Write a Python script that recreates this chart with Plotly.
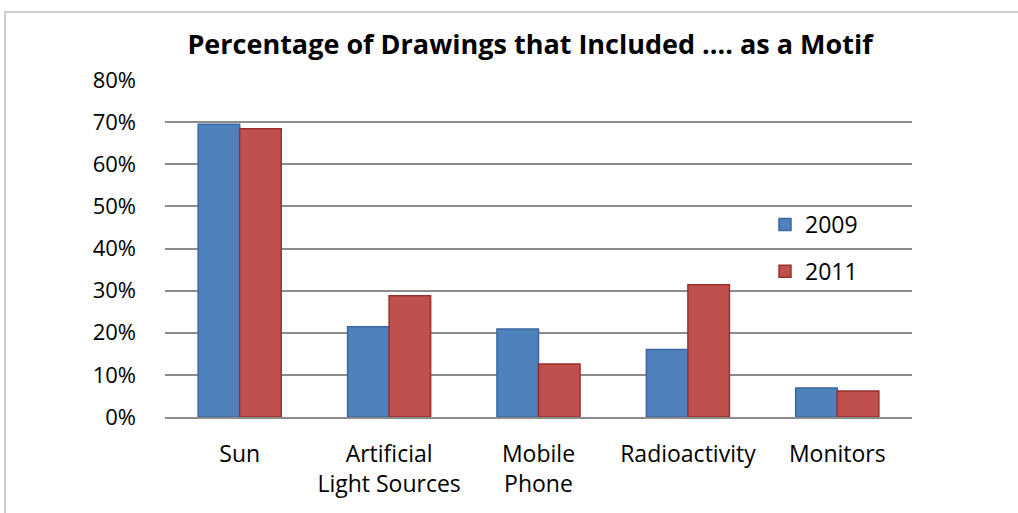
import plotly.graph_objects as go

# Motif categories and share of drawings (in %) for each survey year
categories = ["Sun", "Artificial<br>Light Sources", "Mobile<br>Phone", "Radioactivity", "Monitors"]
share_2009 = [69.5, 21.4, 20.9, 16.0, 6.9]
share_2011 = [68.4, 28.8, 12.6, 31.4, 6.2]
y_ticks = [0, 10, 20, 30, 40, 50, 60, 70, 80]
y_tick_labels = [f"{v}%" for v in y_ticks]

FONT = "Open Sans"
W, H = 1018, 513
L, R, T, B = 165, 106, 80, 96
plot_w = W - L - R
plot_h = H - T - B

fig = go.Figure()
fig.add_trace(go.Bar(
    name="2009", x=categories, y=share_2009,
    marker=dict(color="#4F81BD", line=dict(color="#3A679E", width=1.5)),
    legendgroup="a",
))
fig.add_trace(go.Bar(
    name="2011", x=categories, y=share_2011,
    marker=dict(color="#C0504D", line=dict(color="#9A2F2C", width=1.5)),
    legendgroup="b",
))

# light frame around the whole chart area
fig.add_shape(
    type="rect", xref="paper", yref="paper",
    x0=(5 - L) / plot_w, x1=(W + 20 - L) / plot_w,
    y0=-(B + 20) / plot_h, y1=(H - B - 12) / plot_h,
    line=dict(color="#CFCFCF", width=2), fillcolor="rgba(0,0,0,0)", layer="below",
)

fig.update_layout(
    width=W, height=H,
    margin=dict(l=L, r=R, t=T, b=B),
    paper_bgcolor="white", plot_bgcolor="white",
    barmode="group", bargap=0.444, bargroupgap=0,
    font=dict(family=FONT, size=20, color="black"),
    title=dict(
        text="<b>Percentage of Drawings that Included .... as a Motif</b>",
        x=530 / W, xanchor="center", y=1 - 45 / H, yanchor="middle",
        font=dict(family=FONT, size=27, color="black"),
    ),
    legend=dict(
        x=(779 - L - 14) / plot_w, xanchor="left",
        y=(H - B - 203) / plot_h, yanchor="top",
        bgcolor="rgba(0,0,0,0)", font=dict(size=23),
        traceorder="grouped", tracegroupgap=14,
    ),
    showlegend=True,
)
fig.update_yaxes(
    range=[0, 80], tickvals=y_ticks, ticktext=y_tick_labels,
    showgrid=True, gridcolor="#8C8C8C", gridwidth=1.5,
    zeroline=False, showline=False, ticks="", ticklabelstandoff=28,
    tickfont=dict(size=22),
)
fig.update_xaxes(
    showline=True, linecolor="#8C8C8C", linewidth=1.5,
    ticks="", ticklabelstandoff=16, tickfont=dict(size=23),
)

fig.write_html("out.html")
